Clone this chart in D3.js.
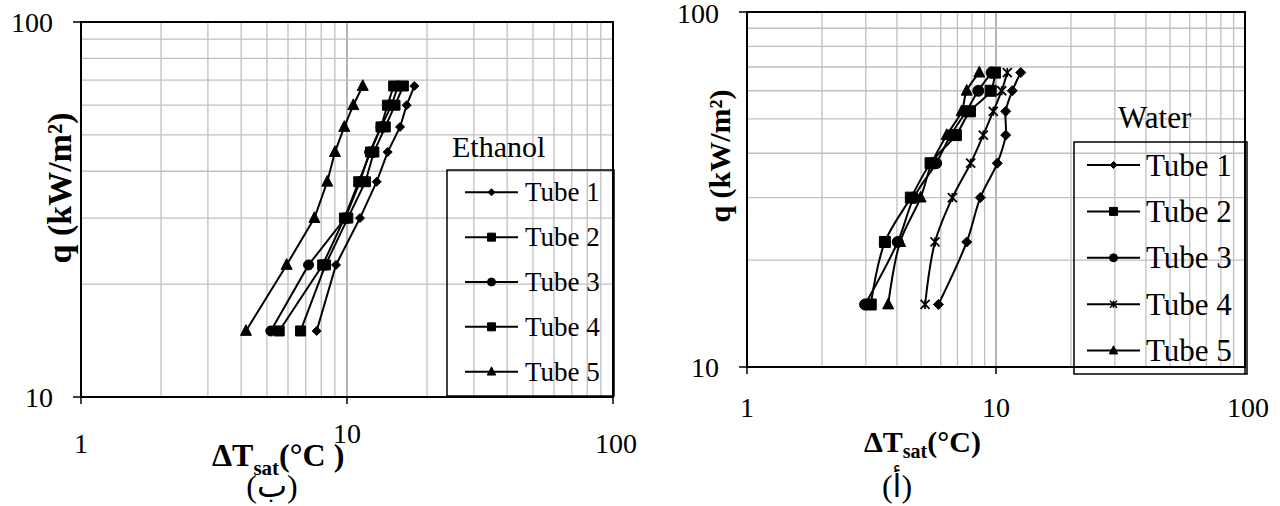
<!DOCTYPE html>
<html lang="en">
<head>
<meta charset="utf-8">
<title>Pool boiling curves</title>
<script src="https://d3js.org/d3.v7.min.js"></script>
<style>
  body { margin: 0; background: #fff; }
  svg text { font-family: "Liberation Serif", "DejaVu Serif", serif; fill: #000; }
  .grid line { stroke: #c0c0c0; stroke-width: 1.3; }
  .grid line.major { stroke: #8c8c8c; }
  .frame { fill: none; stroke: #000; stroke-width: 2; }
  .tickmark { stroke: #000; stroke-width: 1.5; }
  .serie path.line { fill: none; stroke: #000; stroke-width: 2; }
  .serie path.mark { fill: #000; stroke: #000; stroke-width: 1; }
  .legend rect { fill: none; stroke: #000; stroke-width: 1.5; }
  .legend line { stroke: #000; stroke-width: 2; }
  .ticklabel { font-size: 28px; }
  .axistitle { font-weight: bold; }
</style>
</head>
<body>
<svg id="chart" width="1280" height="506"></svg>
<script>
"use strict"

// heat flux levels (kW/m2), the same for every tube
const qLevels = [15, 22.5, 30, 37.5, 45, 52.5, 60, 67.5];
const tubeNames = ["Tube 1", "Tube 2", "Tube 3", "Tube 4", "Tube 5"];

// wall superheat ΔTsat (°C) for each tube - ethanol (left panel)
const ethanolTube1 = [7.69, 9.09, 11.19, 12.93, 14.22, 15.83, 16.76, 17.91];
const ethanolTube2 = [5.56, 8.10, 9.78, 11.07, 12.25, 13.42, 14.19, 14.98];
const ethanolTube3 = [5.17, 7.17, 9.85, 11.19, 12.17, 13.42, 14.71, 15.54];
const ethanolTube4 = [6.69, 8.30, 10.07, 11.73, 12.62, 13.93, 15.15, 16.29];
const ethanolTube5 = [4.17, 5.93, 7.54, 8.43, 9.01, 9.77, 10.56, 11.46];

// water (right panel)
const waterTube1 = [5.87, 7.63, 8.65, 10.12, 10.94, 10.94, 11.63, 12.57];
const waterTube2 = [3.14, 3.58, 4.55, 5.46, 6.90, 7.86, 9.52, 9.91];
const waterTube3 = [2.98, 4.03, 4.68, 5.75, 6.58, 7.60, 8.49, 9.60];
const waterTube4 = [5.19, 5.69, 6.68, 7.91, 8.89, 9.75, 10.54, 11.10];
const waterTube5 = [3.69, 4.12, 4.98, 5.52, 6.34, 7.28, 7.63, 8.57];

// axes (log-log)
const xTicks = [1, 10, 100];
const yTicks = [10, 100];
const minorTicks = [2, 3, 4, 5, 6, 7, 8, 9, 20, 30, 40, 50, 60, 70, 80, 90];

const svg = d3.select("#chart");

/*
 * Small shape generator for the Excel-like markers
 */
function markerPath(shape, r) {
  switch (shape) {
    case "diamond": return `M0,${-r}L${r},0L0,${r}L${-r},0Z`;
    case "square": return `M${-r},${-r}h${2 * r}v${2 * r}h${-2 * r}Z`;
    case "circle": return `M${r},0A${r},${r} 0 1 1 ${-r},0A${r},${r} 0 1 1 ${r},0Z`;
    case "triangle": return `M0,${-r * 1.15}L${r},${r * 0.8}L${-r},${r * 0.8}Z`;
    case "star": return `M${-r},${-r}L${r},${r}M${r},${-r}L${-r},${r}M0,${-r}L0,${r}`;
  }
}

function drawPanel(p) {
  const x = d3.scaleLog().domain([1, 100]).range([p.left, p.right]);
  const y = d3.scaleLog().domain([10, 100]).range([p.bottom, p.top]);
  const g = svg.append("g");

  // grid
  const grid = g.append("g").attr("class", "grid");
  grid.selectAll("line.v").data(minorTicks.concat([10])).enter()
    .append("line")
      .attr("class", d => d === 10 ? "v major" : "v")
      .attr("x1", d => x(d)).attr("x2", d => x(d))
      .attr("y1", p.top).attr("y2", p.bottom);
  grid.selectAll("line.h").data(minorTicks.filter(d => d > 10)).enter()
    .append("line")
      .attr("class", "h")
      .attr("x1", p.left).attr("x2", p.right)
      .attr("y1", d => y(d)).attr("y2", d => y(d));

  g.append("rect").attr("class", "frame")
    .attr("x", p.left).attr("y", p.top)
    .attr("width", p.right - p.left).attr("height", p.bottom - p.top);

  // major tick marks, outside
  g.selectAll("line.ty").data(yTicks).enter().append("line")
    .attr("class", "tickmark")
    .attr("x1", p.left - 8).attr("x2", p.left)
    .attr("y1", d => y(d)).attr("y2", d => y(d));
  g.selectAll("line.tx").data(xTicks).enter().append("line")
    .attr("class", "tickmark")
    .attr("x1", d => x(d)).attr("x2", d => x(d))
    .attr("y1", p.bottom).attr("y2", p.bottom + 7);

  // tick labels
  g.selectAll("text.ty").data(yTicks).enter().append("text")
    .attr("class", "ticklabel")
    .attr("text-anchor", "end")
    .attr("x", p.left - 28)
    .attr("y", d => Math.max(y(d) + 10, 23))
    .text(d => d);
  g.selectAll("text.tx").data(xTicks).enter().append("text")
    .attr("class", "ticklabel")
    .attr("text-anchor", "middle")
    .attr("x", d => x(d) + (d === 100 ? 3 : 0))
    .attr("y", (d, i) => p.xLabelY + p.xLabelShift[i])
    .text(d => d);

  // axis titles
  const xt = g.append("text").attr("class", "axistitle")
    .attr("x", p.xTitle.x).attr("y", p.xTitle.y)
    .style("font-size", p.xTitle.fs + "px");
  xt.append("tspan").text("ΔT");
  xt.append("tspan").attr("dy", p.xTitle.sub).style("font-size", p.xTitle.subFs + "px").text("sat");
  xt.append("tspan").attr("dy", -p.xTitle.sub).text(p.xTitle.unit);

  g.append("text").attr("class", "axistitle")
    .attr("text-anchor", "middle")
    .attr("transform", `translate(${p.yTitle.x},${p.yTitle.y}) rotate(-90)`)
    .style("font-size", p.yTitle.fs + "px")
    .text("q (kW/m²)");

  g.append("text")
    .attr("text-anchor", "middle")
    .attr("x", p.tag.x).attr("y", p.tag.y)
    .style("font-size", "32px")
    .style("font-family", "'Liberation Serif', 'DejaVu Sans', serif")
    .text(p.tag.text);

  // series
  const line = d3.line()
    .x(d => x(d.t))
    .y(d => y(d.q))
    .curve(p.curve);

  const series = g.selectAll("g.serie")
    .data(p.series)
    .enter()
      .append("g")
      .attr("class", "serie");

  series.append("path")
    .attr("class", "line")
    .attr("d", s => line(s.values.map((t, i) => ({ t: t, q: qLevels[i] }))));

  series.each(function (s, k) {
    d3.select(this).selectAll("path.mark")
      .data(s.values.map((t, i) => ({ t: t, q: qLevels[i] })))
      .enter()
        .append("path")
        .attr("class", "mark")
        .attr("transform", d => `translate(${x(d.t)},${y(d.q)})`)
        .attr("d", markerPath(p.markers[k], p.markerSize[k]))
        .style("stroke-width", p.markers[k] === "star" ? 1.8 : 1);
  });

  // legend (transparent box, grid shows through)
  const L = p.legend;
  const lg = g.append("g").attr("class", "legend");
  lg.append("text")
    .attr("x", L.titleX).attr("y", L.titleY)
    .style("font-size", L.titleFs + "px")
    .text(L.title);
  lg.append("rect")
    .attr("x", L.x).attr("y", L.y).attr("width", L.w).attr("height", L.h);
  const row = lg.selectAll("g.row").data(tubeNames).enter()
    .append("g")
    .attr("class", "row")
    .attr("transform", (d, i) => `translate(0,${L.row0 + i * L.step})`);
  row.append("line").attr("x1", L.lineX0).attr("x2", L.lineX1).attr("y1", 0).attr("y2", 0);
  row.append("path")
    .attr("class", "mark")
    .attr("transform", `translate(${(L.lineX0 + L.lineX1) / 2},0)`)
    .attr("d", (d, i) => markerPath(p.markers[i], L.markSize[i]))
    .style("fill", "#000")
    .style("stroke", "#000")
    .style("stroke-width", (d, i) => p.markers[i] === "star" ? 1.5 : 1);
  row.append("text")
    .attr("x", L.textX)
    .attr("y", L.fs * 0.34)
    .style("font-size", L.fs + "px")
    .text(d => d);
}

drawPanel({
  left: 81, right: 613, top: 22, bottom: 397,
  xLabelY: 453, xLabelShift: [0, -10, 0],
  xTitle: { x: 212, y: 466, fs: 32, subFs: 21, sub: 9, unit: "(°C )" },
  yTitle: { x: 71, y: 188, fs: 34 },
  tag: { x: 272, y: 497, text: "(ب)" },
  curve: d3.curveLinear,
  series: [ethanolTube1, ethanolTube2, ethanolTube3, ethanolTube4, ethanolTube5].map(v => ({ values: v })),
  markers: ["diamond", "square", "circle", "square", "triangle"],
  markerSize: [4.5, 5, 5, 5, 5.5],
  legend: {
    title: "Ethanol", titleX: 452, titleY: 157, titleFs: 30,
    x: 447, y: 170, w: 167, h: 226,
    row0: 192.3, step: 44.85, fs: 27,
    lineX0: 465, lineX1: 518, textX: 525,
    markSize: [3.5, 4, 4, 4, 4.2]
  }
});

drawPanel({
  left: 747, right: 1245, top: 12, bottom: 367,
  xLabelY: 417, xLabelShift: [0, 0, 0],
  xTitle: { x: 864, y: 452, fs: 30, subFs: 20, sub: 6, unit: "(°C)" },
  yTitle: { x: 730, y: 156, fs: 30 },
  tag: { x: 897, y: 497, text: "(أ)" },
  curve: d3.curveCatmullRom,
  series: [waterTube1, waterTube2, waterTube3, waterTube4, waterTube5].map(v => ({ values: v })),
  markers: ["diamond", "square", "circle", "star", "triangle"],
  markerSize: [5, 5.5, 5.5, 4.5, 5.5],
  legend: {
    title: "Water", titleX: 1118, titleY: 128, titleFs: 31,
    x: 1074, y: 142, w: 173, h: 232,
    row0: 165, step: 46.4, fs: 31,
    lineX0: 1087, lineX1: 1140, textX: 1146,
    markSize: [3.5, 4, 4, 3.5, 4.2]
  }
});
</script>
</body>
</html>
